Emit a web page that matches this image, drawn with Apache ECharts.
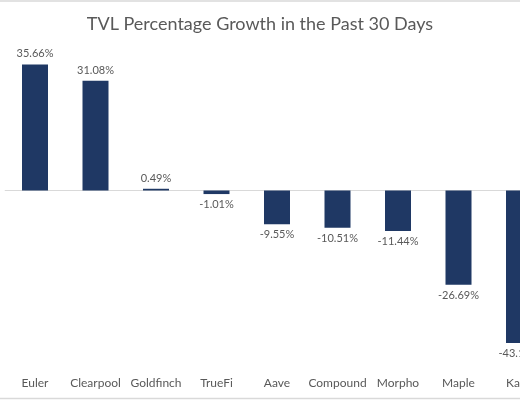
<!DOCTYPE html>
<html>
<head>
<meta charset="utf-8">
<script src="https://cdn.jsdelivr.net/npm/echarts@6/dist/echarts.min.js"></script>
<style>
html,body{margin:0;padding:0;background:#fff;overflow:hidden;width:520px;height:400px;}
#chart{width:560px;height:400px;}
</style>
</head>
<body>
<div id="chart"></div>
<script>
var categories = ['Euler', 'Clearpool', 'Goldfinch', 'TrueFi', 'Aave', 'Compound', 'Morpho', 'Maple', 'Kasu'];
var growthValues = [35.66, 31.08, 0.49, -1.01, -9.55, -10.51, -11.44, -26.69, -43.12];
var titleText = 'TVL Percentage Growth in the Past 30 Days';

var FONT = 'Lato, "Open Sans", sans-serif';
var chart = echarts.init(document.getElementById('chart'));
var seriesData = growthValues.map(function (v) {
  return { value: v, label: { position: v < 0 ? 'bottom' : 'top' } };
});
chart.setOption({
  animation: false,
  backgroundColor: '#ffffff',
  title: {
    text: titleText,
    left: 255,
    textAlign: 'center',
    top: 10,
    textStyle: { color: '#595959', fontSize: 18, fontWeight: 'normal', fontFamily: FONT }
  },
  grid: { left: 4.75, right: 10.75, top: 49.1, bottom: 32.75, containLabel: false },
  xAxis: {
    type: 'category',
    data: categories,
    axisLine: { show: false },
    axisTick: { show: false },
    axisLabel: { color: '#595959', fontSize: 12, margin: 10, fontFamily: FONT, interval: 0 }
  },
  yAxis: {
    type: 'value',
    min: -50,
    max: 40,
    show: false,
    splitLine: { show: false }
  },
  series: [{
    type: 'bar',
    data: seriesData,
    barWidth: 26,
    itemStyle: { color: '#1f3864' },
    label: {
      show: true,
      color: '#595959',
      fontSize: 11,
      fontFamily: FONT,
      distance: 5,
      formatter: function (p) { return p.value.toFixed(2) + '%'; }
    },
    markLine: {
      silent: true,
      symbol: ['none', 'none'],
      label: { show: false },
      lineStyle: { color: '#d9d9d9', width: 1, type: 'solid' },
      data: [{ yAxis: 0 }],
      z: 1
    }
  }],
  graphic: [
    { type: 'line', shape: { x1: 0, y1: 1, x2: 560, y2: 1 }, style: { stroke: '#d9d9d9', lineWidth: 1.5 } },
    { type: 'line', shape: { x1: 0, y1: 398.5, x2: 560, y2: 398.5 }, style: { stroke: '#d9d9d9', lineWidth: 1.5 } }
  ]
});
</script>
</body>
</html>
